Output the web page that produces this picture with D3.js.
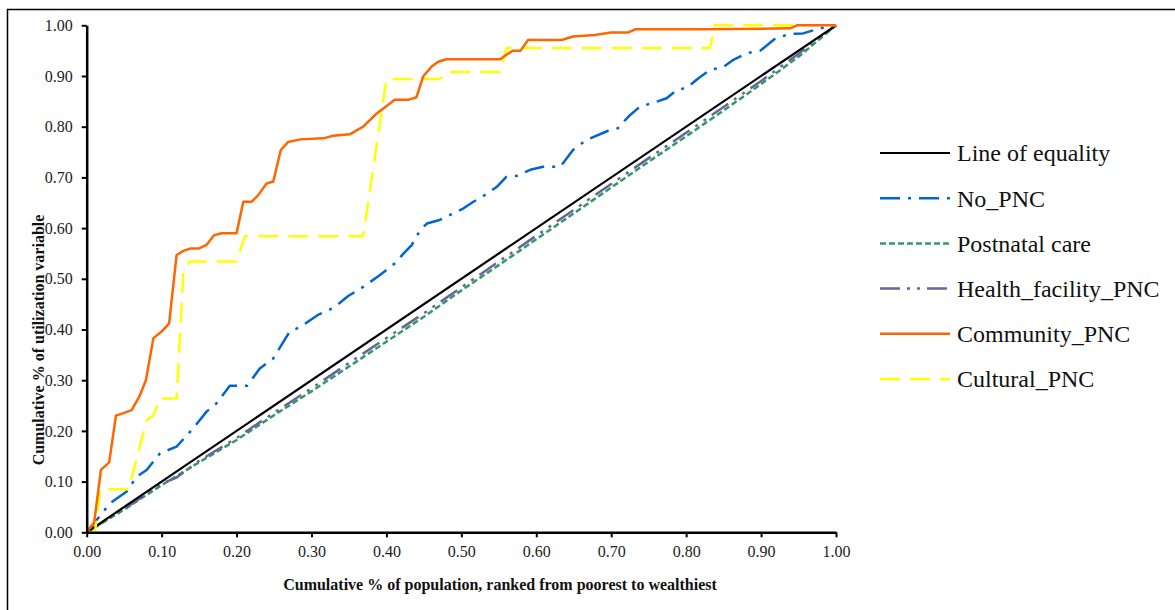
<!DOCTYPE html>
<html>
<head>
<meta charset="utf-8">
<script src="https://cdn.jsdelivr.net/npm/d3@7"></script>
<style>
  body { margin: 0; background: #fff; }
  svg { display: block; }
</style>
</head>
<body>
<div id="chart"></div>
<script>
// Data (x = cumulative share of population, y = cumulative share of variable)
const ticks = [0, 0.1, 0.2, 0.3, 0.4, 0.5, 0.6, 0.7, 0.8, 0.9, 1.0];

const equality = [[0, 0], [1, 1]];

const noPnc = [[0, 0], [0.031, 0.057], [0.053, 0.08], [0.067, 0.11], [0.08, 0.123], [0.098, 0.156],
  [0.12, 0.169], [0.142, 0.205], [0.16, 0.238], [0.173, 0.254], [0.191, 0.289], [0.214, 0.289],
  [0.231, 0.323], [0.249, 0.343], [0.271, 0.396], [0.285, 0.405], [0.31, 0.43], [0.33, 0.443],
  [0.349, 0.466], [0.369, 0.484], [0.391, 0.507], [0.411, 0.53], [0.423, 0.55], [0.434, 0.567],
  [0.445, 0.596], [0.454, 0.609], [0.471, 0.616], [0.485, 0.626], [0.503, 0.639], [0.516, 0.652],
  [0.525, 0.659], [0.547, 0.681], [0.56, 0.701], [0.574, 0.703], [0.592, 0.715], [0.609, 0.721],
  [0.632, 0.721], [0.649, 0.754], [0.667, 0.774], [0.696, 0.792], [0.709, 0.797], [0.723, 0.82],
  [0.738, 0.839], [0.758, 0.848], [0.774, 0.856], [0.787, 0.872], [0.801, 0.877], [0.816, 0.895],
  [0.832, 0.912], [0.85, 0.918], [0.863, 0.932], [0.881, 0.945], [0.899, 0.95], [0.919, 0.974],
  [0.939, 0.983], [0.956, 0.984], [0.974, 0.992], [0.987, 0.997], [1, 1]];

const postnatal = [[0, 0], [0.05, 0.045], [0.1, 0.093], [0.15, 0.138], [0.2, 0.182], [0.25, 0.231],
  [0.3, 0.278], [0.35, 0.327], [0.4, 0.376], [0.45, 0.425], [0.5, 0.477], [0.55, 0.527],
  [0.6, 0.578], [0.65, 0.629], [0.7, 0.68], [0.75, 0.731], [0.8, 0.781], [0.85, 0.832],
  [0.9, 0.884], [0.95, 0.938], [1, 1]];

const healthFacility = [[0, 0], [0.05, 0.046], [0.1, 0.096], [0.12, 0.108], [0.14, 0.13], [0.15, 0.141],
  [0.2, 0.186], [0.25, 0.236], [0.3, 0.284], [0.35, 0.334], [0.4, 0.383], [0.45, 0.432],
  [0.5, 0.483], [0.55, 0.534], [0.6, 0.585], [0.65, 0.636], [0.7, 0.687], [0.75, 0.738],
  [0.8, 0.788], [0.85, 0.839], [0.9, 0.89], [0.95, 0.944], [1, 1]];

const community = [[0, 0], [0.01, 0.02], [0.019, 0.123], [0.03, 0.138], [0.039, 0.23], [0.049, 0.235],
  [0.06, 0.241], [0.07, 0.267], [0.079, 0.30], [0.089, 0.383], [0.10, 0.396], [0.11, 0.412],
  [0.12, 0.547], [0.129, 0.555], [0.139, 0.56], [0.15, 0.56], [0.16, 0.567], [0.17, 0.586],
  [0.18, 0.59], [0.20, 0.59], [0.209, 0.652], [0.22, 0.652], [0.229, 0.665], [0.24, 0.688],
  [0.249, 0.692], [0.259, 0.754], [0.269, 0.77], [0.285, 0.775], [0.316, 0.777], [0.329, 0.782],
  [0.351, 0.785], [0.369, 0.80], [0.387, 0.826], [0.396, 0.836], [0.411, 0.853], [0.429, 0.853],
  [0.44, 0.858], [0.449, 0.899], [0.46, 0.918], [0.469, 0.928], [0.48, 0.933], [0.552, 0.933],
  [0.56, 0.942], [0.569, 0.95], [0.579, 0.95], [0.589, 0.971], [0.634, 0.971], [0.649, 0.978],
  [0.678, 0.981], [0.70, 0.986], [0.723, 0.986], [0.732, 0.992], [0.82, 0.992], [0.939, 0.994],
  [0.948, 1.0], [1, 1]];

const cultural = [[0, 0], [0.011, 0], [0.018, 0.085], [0.056, 0.085], [0.08, 0.221], [0.089, 0.231],
  [0.098, 0.264], [0.12, 0.264], [0.129, 0.514], [0.138, 0.534], [0.20, 0.534], [0.211, 0.584],
  [0.369, 0.584], [0.40, 0.894], [0.471, 0.894], [0.485, 0.908], [0.552, 0.908], [0.56, 0.955],
  [0.832, 0.955], [0.838, 1.0], [1, 1]];

const seriesNames = ["Line of equality", "No_PNC", "Postnatal care", "Health_facility_PNC", "Community_PNC", "Cultural_PNC"];
const seriesData = [equality, noPnc, postnatal, healthFacility, community, cultural];

// styles for each series, in the same order as above
const styles = [
  { color: "#000000", dash: null, width: 2.2 },
  { color: "#0066CC", dash: "20,8,3,8", width: 2.5 },
  { color: "#339966", dash: "6,3", width: 2.5 },
  { color: "#666699", dash: "20,7,3,7,3,7", width: 2.5 },
  { color: "#FF6600", dash: null, width: 2.5 },
  { color: "#FFFF00", dash: "20,10", width: 2.5 }
];

// draw order: lower ones first so the curves overlap like the original
const drawOrder = [2, 3, 0, 1, 5, 4];

const serif = "'Liberation Serif', 'Times New Roman', serif";

let width = 1175, height = 610;
let margin = { top: 25.3, left: 86.7 };
let plotW = 749.3, plotH = 507;

let svg = d3.select("#chart")
            .append("svg")
            .attr("width", width)
            .attr("height", height);

// outer frame (only left/top visible in the picture)
svg.append("rect")
   .attr("x", 7.5)
   .attr("y", 9.5)
   .attr("width", 1300)
   .attr("height", 800)
   .attr("fill", "none")
   .attr("stroke", "#000")
   .attr("stroke-width", 1.5);

let g = svg.append("g")
           .attr("transform", `translate(${margin.left},${margin.top})`);

let x = d3.scaleLinear().domain([0, 1]).range([0, plotW]);
let y = d3.scaleLinear().domain([0, 1]).range([plotH, 0]);

let line = d3.line()
             .x(d => x(d[0]))
             .y(d => y(d[1]));

drawOrder.forEach(i => {
   g.append("path")
    .datum(seriesData[i])
    .attr("fill", "none")
    .attr("stroke", styles[i].color)
    .attr("stroke-width", styles[i].width)
    .attr("stroke-dasharray", styles[i].dash)
    .attr("stroke-linejoin", "round")
    .attr("d", line);
});

// axes
let xAxis = g.append("g")
             .attr("transform", `translate(0, ${plotH})`)
             .call(d3.axisBottom(x).tickValues(ticks).tickFormat(d3.format(".2f")).tickSize(5).tickSizeOuter(0));

let yAxis = g.append("g")
             .call(d3.axisLeft(y).tickValues(ticks).tickFormat(d3.format(".2f")).tickSize(5).tickSizeOuter(0));

[xAxis, yAxis].forEach(a => {
   a.attr("font-family", null).attr("font-size", null);
   a.select(".domain").attr("stroke", "#000").attr("stroke-width", 2.5);
   a.selectAll(".tick line").attr("stroke", "#000").attr("stroke-width", 2);
   a.selectAll(".tick text")
    .attr("fill", "#222")
    .style("font-family", serif)
    .style("font-size", "16px");
});
xAxis.selectAll(".tick text").attr("dy", "0.71em").attr("y", 13);
yAxis.selectAll(".tick text").attr("x", -14);

// axis titles
svg.append("text")
   .attr("x", 500)
   .attr("y", 590)
   .attr("text-anchor", "middle")
   .attr("fill", "#111")
   .style("font-family", serif)
   .style("font-weight", "bold")
   .style("font-size", "16px")
   .text("Cumulative % of population, ranked from poorest to wealthiest");

svg.append("text")
   .attr("transform", "translate(44, 340) rotate(-90)")
   .attr("text-anchor", "middle")
   .attr("fill", "#111")
   .style("font-family", serif)
   .style("font-weight", "bold")
   .style("font-size", "16px")
   .text("Cumulative % of utilization variable");

// legend
let legend = svg.append("g")
                .attr("transform", "translate(880, 153)");

seriesNames.forEach((name, i) => {
   let row = legend.append("g").attr("transform", `translate(0, ${i * 45.2})`);
   row.append("line")
      .attr("x1", 0).attr("x2", 70)
      .attr("y1", 0).attr("y2", 0)
      .attr("stroke", styles[i].color)
      .attr("stroke-width", styles[i].width)
      .attr("stroke-dasharray", styles[i].dash);
   row.append("text")
      .attr("x", 77)
      .attr("y", 0)
      .attr("dy", "0.35em")
      .attr("fill", "#111")
      .style("font-family", serif)
      .style("font-size", "24px")
      .text(name);
});
</script>
</body>
</html>
